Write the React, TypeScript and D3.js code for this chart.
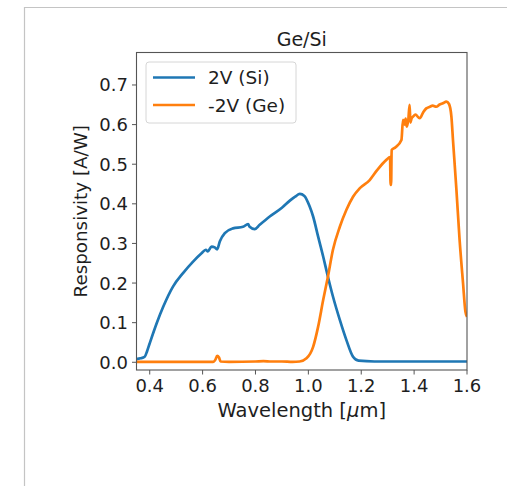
import React from "react";
import * as d3 from "d3";

const title = "Ge/Si";
const xLabelMain = "Wavelength [";
const xLabelMu = "\u03bc";
const xLabelEnd = "m]";
const yLabel = "Responsivity [A/W]";
const seriesNames = ["2V (Si)", "-2V (Ge)"];
const seriesColors = ["#1f77b4", "#ff7f0e"];

const xTicks = [0.4, 0.6, 0.8, 1.0, 1.2, 1.4, 1.6];
const yTicks = [0.0, 0.1, 0.2, 0.3, 0.4, 0.5, 0.6, 0.7];

const siWl = [0.35, 0.365, 0.381, 0.39, 0.4, 0.426, 0.451, 0.488, 0.526, 0.564, 0.596, 0.612, 0.62, 0.634, 0.646, 0.655, 0.665, 0.684, 0.715, 0.753, 0.772, 0.778, 0.797, 0.816, 0.854, 0.9, 0.93, 0.95, 0.968, 0.985, 1.005, 1.018, 1.037, 1.056, 1.074, 1.093, 1.119, 1.144, 1.169, 1.19, 1.25, 1.3, 1.4, 1.5, 1.6];
const siResp = [0.008, 0.01, 0.014, 0.028, 0.048, 0.098, 0.14, 0.191, 0.225, 0.254, 0.275, 0.284, 0.28, 0.292, 0.29, 0.285, 0.305, 0.326, 0.338, 0.342, 0.349, 0.342, 0.336, 0.347, 0.368, 0.39, 0.408, 0.418, 0.425, 0.42, 0.393, 0.368, 0.317, 0.267, 0.216, 0.166, 0.107, 0.056, 0.014, 0.004, 0.002, 0.002, 0.002, 0.002, 0.002];

const geWl = [0.35, 0.45, 0.55, 0.64, 0.648, 0.655, 0.662, 0.668, 0.7, 0.8, 0.83, 0.86, 0.9, 0.94, 0.967, 0.993, 1.018, 1.037, 1.056, 1.074, 1.093, 1.119, 1.144, 1.169, 1.194, 1.232, 1.26, 1.295, 1.309, 1.311, 1.313, 1.315, 1.33, 1.352, 1.358, 1.364, 1.368, 1.372, 1.378, 1.383, 1.386, 1.39, 1.396, 1.405, 1.421, 1.435, 1.446, 1.46, 1.47, 1.484, 1.495, 1.509, 1.522, 1.532, 1.541, 1.547, 1.56, 1.572, 1.585, 1.594, 1.6];
const geResp = [0.001, 0.001, 0.001, 0.001, 0.006, 0.016, 0.012, 0.002, 0.001, 0.002, 0.003, 0.002, 0.002, 0.001, 0.002, 0.01, 0.039, 0.09, 0.157, 0.216, 0.284, 0.342, 0.385, 0.418, 0.439, 0.46, 0.485, 0.511, 0.518, 0.448, 0.448, 0.536, 0.543, 0.561, 0.612, 0.6, 0.615, 0.595, 0.612, 0.65, 0.605, 0.615, 0.62, 0.625, 0.616, 0.632, 0.641, 0.645, 0.648, 0.645, 0.65, 0.654, 0.658, 0.652, 0.62, 0.561, 0.435, 0.309, 0.2, 0.128, 0.115];

const W = 507;
const H = 486;
const left = 136.5;
const right = 467;
const top = 52.5;
const bottom = 370;
const font = "'DejaVu Sans', sans-serif";
const textColor = "#1e1e1e";

export default function App() {
  const x = d3.scaleLinear().domain([0.35, 1.6]).range([left, right]);
  const y = d3.scaleLinear().domain([-0.0195, 0.782]).range([bottom, top]);
  const line = d3
    .line<[number, number]>()
    .x((d) => x(d[0]))
    .y((d) => y(d[1]))
    .curve(d3.curveMonotoneX);
  const si: [number, number][] = siWl.map((w, i) => [w, siResp[i]]);
  const ge: [number, number][] = geWl.map((w, i) => [w, geResp[i]]);
  const paths = [si, ge];

  return (
    <svg
      width={W}
      height={H}
      style={{ position: "absolute", left: 0, top: 0, background: "#fff" }}
      fontFamily={font}
    >
      <rect x={0} y={0} width={W} height={H} fill="#fff" />
      <path d={`M24.5,${H} V7.5 H${W}`} fill="none" stroke="#c4c4c4" strokeWidth={1.2} />
      <defs>
        <clipPath id="plotclip">
          <rect x={left} y={top} width={right - left} height={bottom - top} />
        </clipPath>
      </defs>
      {paths.map((p, i) => (
        <path
          key={i}
          d={line(p) || ""}
          fill="none"
          stroke={seriesColors[i]}
          strokeWidth={2.7}
          strokeLinejoin="round"
          strokeLinecap="butt"
          clipPath="url(#plotclip)"
        />
      ))}
      <rect x={left} y={top} width={right - left} height={bottom - top} fill="none" stroke="#555" strokeWidth={1.1} />
      {xTicks.map((t) => (
        <g key={t}>
          <line x1={x(t)} x2={x(t)} y1={bottom} y2={bottom + 4.5} stroke="#555" strokeWidth={1} />
          <text x={x(t)} y={392} textAnchor="middle" fontSize={18} fill={textColor}>
            {t.toFixed(1)}
          </text>
        </g>
      ))}
      {yTicks.map((t) => (
        <g key={t}>
          <line x1={left - 4.5} x2={left} y1={y(t)} y2={y(t)} stroke="#555" strokeWidth={1} />
          <text x={128} y={y(t)} dy="0.36em" textAnchor="end" fontSize={18} fill={textColor}>
            {t.toFixed(1)}
          </text>
        </g>
      ))}
      <text x={(left + right) / 2} y={46} textAnchor="middle" fontSize={19} fill={textColor}>
        {title}
      </text>
      <text x={(left + right) / 2} y={417} textAnchor="middle" fontSize={19.5} fill={textColor}>
        {xLabelMain}
        <tspan fontStyle="italic">{xLabelMu}</tspan>
        {xLabelEnd}
      </text>
      <text
        transform={`translate(87,${(top + bottom) / 2}) rotate(-90)`}
        textAnchor="middle"
        fontSize={18.3}
        fill={textColor}
      >
        {yLabel}
      </text>
      <rect x={146} y={62} width={150} height={61} rx={3} fill="#fff" fillOpacity={0.8} stroke="#d6d6d6" strokeWidth={1} />
      {seriesNames.map((n, i) => (
        <g key={n}>
          <line x1={153} x2={195} y1={77.5 + i * 27.5} y2={77.5 + i * 27.5} stroke={seriesColors[i]} strokeWidth={2.7} />
          <text x={208} y={77.5 + i * 27.5} dy="0.36em" fontSize={18.5} fill={textColor}>
            {n}
          </text>
        </g>
      ))}
    </svg>
  );
}
